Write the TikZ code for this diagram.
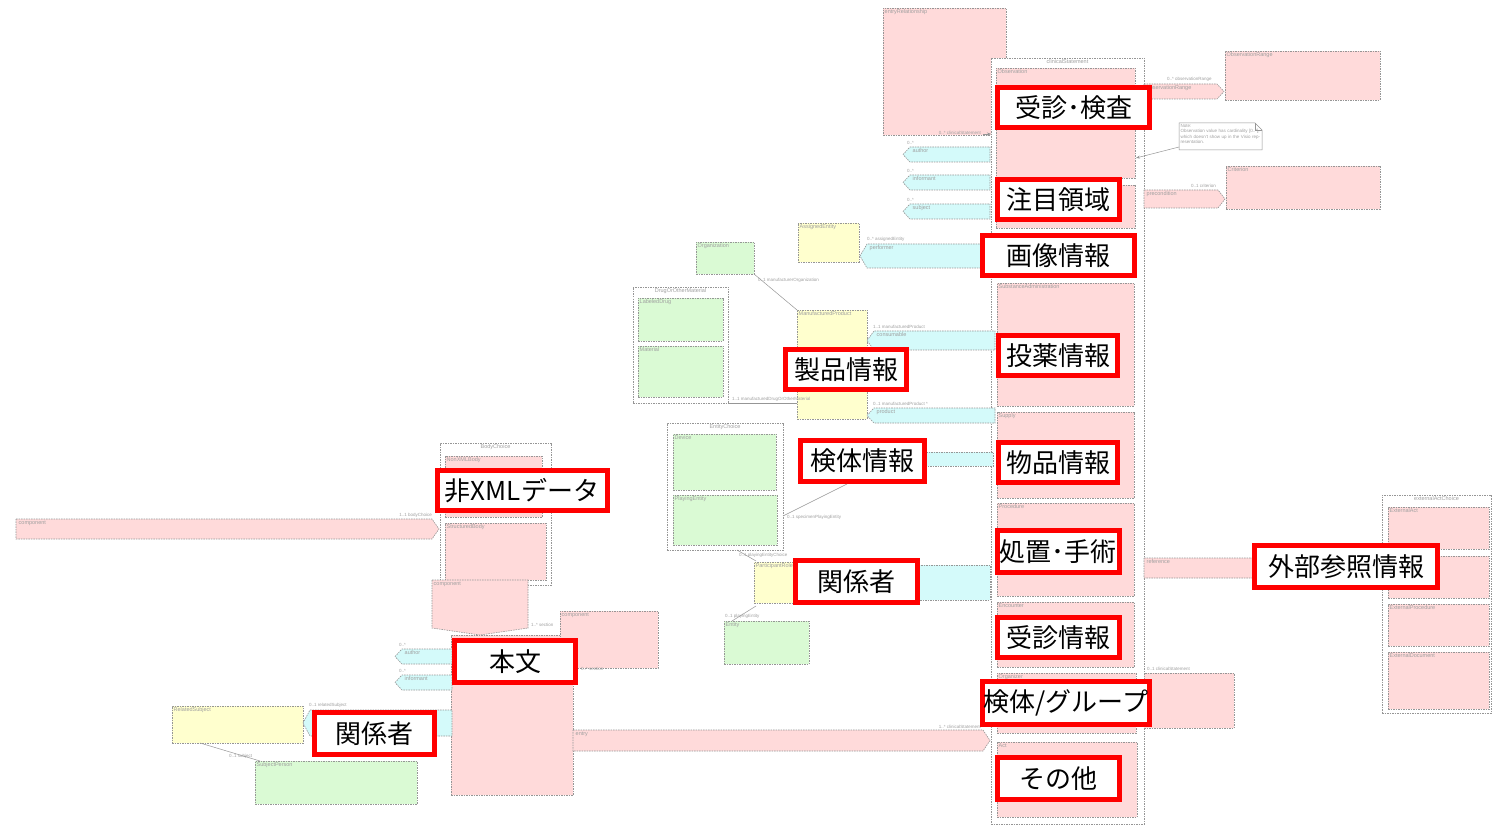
\documentclass[tikz,border=0pt]{standalone}
\usepackage{fontspec}
\newfontfamily\jp{Noto Sans CJK JP}
\newfontfamily\smf{Liberation Sans}
\usetikzlibrary{arrows.meta}
\definecolor{pinkF}{RGB}{255,218,218}
\definecolor{cyanF}{RGB}{212,250,250}
\definecolor{yelF}{RGB}{255,255,206}
\definecolor{grnF}{RGB}{218,250,212}
\definecolor{bordC}{RGB}{150,150,150}
\definecolor{txtC}{RGB}{160,160,160}
\tikzset{
 base/.style={draw=bordC, line width=0.6pt, dash pattern=on 1.5pt off 1pt, inner sep=0pt, outer sep=0pt, anchor=north west},
 pinkb/.style={base, fill=pinkF},
 cyanb/.style={base, fill=cyanF},
 yelb/.style={base, fill=yelF},
 grnb/.style={base, fill=grnF},
 contb/.style={base, fill=white},
 hdr/.style={font=\smf\fontsize{5.5}{6}\selectfont, text=txtC, inner sep=1.5pt, anchor=north west},
 mult/.style={font=\smf\fontsize{4.5}{5}\selectfont, text=txtC, inner sep=1pt},
 lbl/.style={draw=red, line width=5pt, fill=white, font=\jp\fontsize{26}{26}\selectfont, inner sep=0pt, text=black},
 conn/.style={draw=bordC, line width=0.5pt},
}
\newcommand\bx[7]{\node[#1, minimum width={(#5-#3)*1pt}, minimum height={(#6-#4)*1pt}] (#2) at (#3,#4) {};
 \node[hdr] at (#2.north west) {#7};}
\newcommand\nbx[6]{\node[#1, minimum width={(#5-#3)*1pt}, minimum height={(#6-#4)*1pt}] (#2) at (#3,#4) {};}
\newcommand\cbx[7]{\node[#1, minimum width={(#5-#3)*1pt}, minimum height={(#6-#4)*1pt}] (#2) at (#3,#4) {};
 \node[hdr, anchor=north] at (#2.north) {#7};}
\newcommand\lsig[7]{\path[#1] (#3,{(#4+#6)/2}) -- (#3+7,#4) -- (#5,#4) -- (#5,#6) -- (#3+7,#6) -- cycle;
 \coordinate (#2) at (#3,{(#4+#6)/2});
 \node[hdr] at (#3+8,#4) {#7};}
\newcommand\rsig[7]{\path[#1] (#3,#4) -- (#5-7,#4) -- (#5,{(#4+#6)/2}) -- (#5-7,#6) -- (#3,#6) -- cycle;
 \coordinate (#2) at (#5,{(#4+#6)/2});
 \node[hdr] at (#3+1,#4) {#7};}
\begin{document}
\begin{tikzpicture}[x=1pt,y=-1pt]
\useasboundingbox[fill=white] (0,0) rectangle (1492,826);
% ---- top entryRelationship
\bx{pinkb}{er}{883}{8}{1006}{135}{entryRelationship}
% ---- clinicalStatement container
\cbx{contb}{cs}{991}{58}{1144}{824}{clinicalStatement}
\bx{pinkb}{obs}{996}{68}{1135}{178}{Observation}
\nbx{pinkb}{roi}{996}{185}{1135}{228}
\bx{pinkb}{sa}{997}{283}{1134}{406}{SubstanceAdministration}
\bx{pinkb}{sup}{997}{412}{1134}{498}{Supply}
\bx{pinkb}{proc}{997}{503}{1134}{596}{Procedure}
\bx{pinkb}{enc}{997}{602}{1134}{667}{Encounter}
\bx{pinkb}{org}{997}{673}{1136}{733}{Organizer}
\bx{pinkb}{act}{997}{742}{1137}{817}{Act}
\draw[conn,-{Stealth[length=4pt]}] (983,134) -- (cs.west |- 0,134);
\node[mult, anchor=south east] at (982,136) {0..* clinicalStatement};
% ---- right side of clinicalStatement
\bx{pinkb}{orng}{1225}{51}{1380}{100}{ObservationRange}
\rsig{pinkb}{orA}{1144}{84}{1224}{99}{observationRange}
\node[mult, anchor=south west] at (1166,83) {0..* observationRange};
\bx{pinkb}{crit}{1226}{166}{1380}{209}{Criterion}
\rsig{pinkb}{prA}{1144}{190}{1225}{208}{precondition}
\node[mult, anchor=south west] at (1190,189) {0..1 criterion};
\path[draw=bordC, fill=white, line width=0.5pt] (1179,123) -- (1255,123) -- (1262,130) -- (1262,150) -- (1179,150) -- cycle;
\draw[draw=bordC, line width=0.5pt] (1255,123) -- (1255,130) -- (1262,130);
\node[font=\smf\fontsize{4.5}{5.2}\selectfont, text=txtC, anchor=north west, text width=80pt, inner sep=1.5pt, align=left] (note) at (1179,123) {Note:\\Observation value has cardinality [0..*], which doesn't show up in the Visio representation.};
\coordinate (noteL) at (1179,147);
\coordinate (obsP) at (1136,158);
\draw[conn,-{Stealth[length=4pt]}] (noteL) -- (obsP);
% reference / externalActChoice
\rsig{pinkb}{refA}{1144}{558}{1262}{578}{reference}
\cbx{contb}{eac}{1382}{495}{1491}{713}{externalActChoice}
\bx{pinkb}{ea1}{1388}{507}{1489}{549}{ExternalAct}
\nbx{pinkb}{ea2}{1388}{556}{1489}{598}
\bx{pinkb}{ea3}{1388}{604}{1489}{646}{ExternalProcedure}
\bx{pinkb}{ea4}{1388}{652}{1489}{709}{ExternalDocument}
\nbx{pinkb}{compR}{1144}{673}{1234}{728}
\node[mult, anchor=south west] at (1146,672) {0..1 clinicalStatement};
% ---- left of clinicalStatement : participations
\lsig{cyanb}{auA}{903}{147}{990}{162}{author}
\node[mult, anchor=south west] at (906,146) {0..*};
\lsig{cyanb}{inA}{903}{175}{990}{190}{informant}
\node[mult, anchor=south west] at (906,174) {0..*};
\lsig{cyanb}{suA}{903}{204}{990}{219}{subject}
\node[mult, anchor=south west] at (906,203) {0..*};
\bx{yelb}{ae}{798}{223}{859}{262}{AssignedEntity}
\lsig{cyanb}{peA}{860}{244}{990}{268}{performer}
\node[mult, anchor=south west] at (866,243) {0..* assignedEntity};
\bx{grnb}{orgn}{696}{242}{754}{274}{Organization}
\cbx{contb}{dom}{633}{287}{728}{403}{DrugOrOtherMaterial}
\bx{grnb}{ld}{638}{298}{723}{341}{LabeledDrug}
\bx{grnb}{mat}{638}{346}{723}{397}{Material}
\bx{yelb}{mp}{797}{310}{867}{419}{ManufacturedProduct}
\lsig{cyanb}{coA}{867}{331}{995}{350}{consumable}
\node[mult, anchor=south west] at (872,330) {1..1 manufacturedProduct};
\lsig{cyanb}{prdA}{867}{408}{995}{423}{product}
\node[mult, anchor=south west] at (872,407) {0..1 manufacturedProduct *};
\draw[conn] (orgn.south east) -- (mp.north west);
\node[mult, anchor=west] at (757,280) {0..1 manufacturerOrganization};
\draw[conn] (dom.south east) -- (mp.west |- dom.south east);
\node[mult, anchor=south west] at (731,403) {1..1 manufacturedDrugOrOtherMaterial};
% specimen / entity choice
\nbx{cyanb}{spA}{900}{452}{993}{466}
\cbx{contb}{ec}{667}{423}{783}{550}{EntityChoice}
\bx{grnb}{dev}{673}{434}{776}{490}{Device}
\bx{grnb}{pe}{673}{495}{777}{545}{PlayingEntity}
\bx{yelb}{pr}{754}{562}{812}{603}{ParticipantRole}
\nbx{cyanb}{paA}{880}{565}{990}{600}
\bx{grnb}{ent}{724}{621}{809}{664}{Entity}
\node[mult, anchor=west] at (786,517) {0..1 specimenPlayingEntity};
\node[mult, anchor=north west] at (738,552) {0..1 playingEntityChoice};
\node[mult, anchor=south west] at (724,620) {0..1 playingEntity};
% ---- body
\cbx{contb}{bc}{440}{443}{551}{585}{BodyChoice}
\bx{pinkb}{nxb}{445}{456}{542}{517}{NonXMLBody}
\bx{pinkb}{stb}{445}{523}{546}{580}{StructuredBody}
\rsig{pinkb}{cmpA}{16}{519}{439}{539}{component}
\node[mult, anchor=south east] at (433,519) {1..1 bodyChoice};
\path[pinkb] (432,580) -- (528,580) -- (528,628) -- (480,635) -- (432,628) -- cycle;
\node[hdr] at (432,580) {component};
\nbx{pinkb}{sec}{451}{635}{573}{795}
\bx{pinkb}{compS}{560}{611}{658}{668}{component}
\node[mult, anchor=south west] at (530,628) {1..* section};
\node[mult, anchor=north west] at (580,666) {0..* section};
\lsig{cyanb}{au2}{395}{649}{452}{664}{author}
\node[mult, anchor=south west] at (398,648) {0..*};
\lsig{cyanb}{in2}{395}{675}{452}{690}{informant}
\node[mult, anchor=south west] at (398,674) {0..*};
\bx{yelb}{rs}{172}{706}{303}{743}{RelatedSubject}
\lsig{cyanb}{rsA}{303}{710}{452}{736}{relatedSubject}
\node[mult, anchor=south west] at (308,709) {0..1 relatedSubject};
\bx{grnb}{sp}{255}{761}{417}{804}{SubjectPerson}
\node[mult, anchor=south west] at (228,760) {0..1 subject};
\rsig{pinkb}{enA}{573}{730}{990}{751}{entry}
\node[mult, anchor=south east] at (982,730) {1..* clinicalStatement};
% ---- connectors among boxes
\coordinate (ecR) at (783,516);
\coordinate (ecB) at (737,550);
\coordinate (prT) at (756,561);
\coordinate (prB) at (756,606);
\coordinate (entT) at (732,621);
\coordinate (rsB) at (200,743);
\coordinate (spT) at (260,761);
\draw[conn] (ecB) -- (prT);
\draw[conn] (prB) -- (entT);
\draw[conn] (rsB) -- (spT);
% ---- red labels
\node[lbl, minimum width=152pt, minimum height=40pt] (l1) at (1073.5,107.5) {受診･検査};
\node[lbl, minimum width=122pt, minimum height=40pt] (l2) at (1058,199.5) {注目領域};
\node[lbl, minimum width=152pt, minimum height=40pt] (l3) at (1058,256) {画像情報};
\node[lbl, minimum width=119pt, minimum height=40pt] (l4) at (1058,355.5) {投薬情報};
\node[lbl, minimum width=121pt, minimum height=40pt] (l5) at (846,370) {製品情報};
\node[lbl, minimum width=124pt, minimum height=41pt] (l6) at (862,461) {検体情報};
\node[lbl, minimum width=119pt, minimum height=40pt] (l7) at (1058,462.5) {物品情報};
\node[lbl, minimum width=170pt, minimum height=40pt] (l8) at (522,490.5) {非XMLデータ};
\node[lbl, minimum width=122pt, minimum height=42pt] (l9) at (1058,551.5) {処置･手術};
\node[lbl, minimum width=183pt, minimum height=42pt] (l10) at (1346,566.5) {外部参照情報};
\node[lbl, minimum width=122pt, minimum height=42pt] (l11) at (856.5,581.5) {関係者};
\node[lbl, minimum width=122pt, minimum height=40pt] (l12) at (1058,637.5) {受診情報};
\node[lbl, minimum width=121pt, minimum height=42pt] (l13) at (515,661.5) {本文};
\node[lbl, minimum width=167pt, minimum height=43pt] (l14) at (1066,703) {検体/グループ};
\node[lbl, minimum width=120pt, minimum height=42pt] (l15) at (374.5,733.5) {関係者};
\node[lbl, minimum width=122pt, minimum height=42pt] (l16) at (1058,778.5) {その他};
\draw[conn] (ecR) -- (l6.south west -| 847,0);
\end{tikzpicture}
\end{document}
